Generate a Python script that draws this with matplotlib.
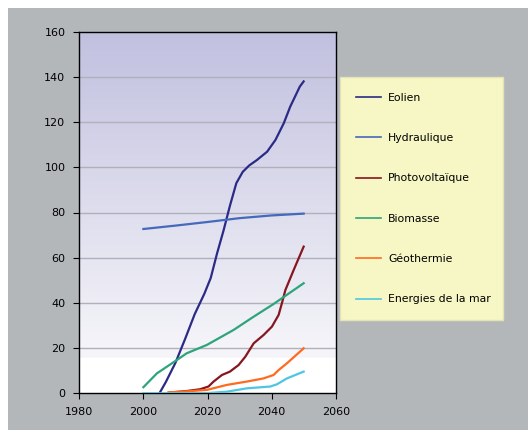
import numpy as np
import matplotlib
matplotlib.use("Agg")
import matplotlib.pyplot as plt
from matplotlib.patches import Rectangle

# values (GW-like units, years)
eolien_x = [2005, 2007, 2010, 2013, 2016, 2019, 2021, 2023, 2025, 2027, 2029, 2031,
            2033, 2035.4, 2038.6, 2041.2, 2043.8, 2045.8, 2048.8, 2050]
eolien_y = [0, 5, 13.5, 24, 35, 44, 51, 62, 72, 83, 93, 98, 100.8, 103.2, 106.9, 112.1,
            119.5, 126.8, 135.7, 138]
hydro_x = [2000, 2010, 2020, 2030, 2040, 2050]
hydro_y = [72.7, 74.2, 75.8, 77.5, 78.7, 79.5]
pv_x = [2008, 2013.5, 2017.7, 2020.3, 2021.9, 2024.5, 2027, 2029.7, 2031.8, 2034.4,
        2037.5, 2040.1, 2042.2, 2043.2, 2044.3, 2046.9, 2050]
pv_y = [0.3, 1, 1.8, 3, 5.2, 8.1, 9.6, 12.5, 16.2, 22.1, 25.8, 29.5, 34.7, 39.8, 45.7,
        54.6, 64.9]
bio_x = [2000, 2004.2, 2010.4, 2013.5, 2019.8, 2028.1, 2034.4, 2040.6, 2050]
bio_y = [2.7, 8.8, 14.7, 17.7, 21.4, 28, 33.9, 39.5, 48.7]
geo_x = [2007.8, 2013, 2019.8, 2026, 2032.3, 2037.5, 2040.6, 2042.2, 2044.8, 2050]
geo_y = [0.4, 0.8, 1.5, 3.7, 5.2, 6.6, 8.1, 10.3, 13.3, 19.9]
mer_x = [2000, 2010, 2020, 2026, 2032.3, 2039.6, 2041.7, 2044.8, 2050]
mer_y = [0, 0, 0.1, 0.7, 2.2, 3, 4, 6.6, 9.6]

series = [
    ("Eolien", eolien_x, eolien_y, "#2b2a86"),
    ("Hydraulique", hydro_x, hydro_y, "#4569bd"),
    ("Photovolta\u00efque", pv_x, pv_y, "#86161f"),
    ("Biomasse", bio_x, bio_y, "#2ca57a"),
    ("G\u00e9othermie", geo_x, geo_y, "#ff6a1e"),
    ("Energies de la mar", mer_x, mer_y, "#4ec6e0"),
]
xticks = [1980, 2000, 2020, 2040, 2060]
yticks = list(range(0, 161, 20))

W, H = 528, 430
fig = plt.figure(figsize=(W / 100, H / 100), dpi=100, facecolor="white")
bg = Rectangle((8 / W, 0), 1 - 8 / W, (H - 8) / H, transform=fig.transFigure,
               facecolor="#b4b7ba", edgecolor="none", zorder=-10)
fig.add_artist(bg)

ax = fig.add_axes([79.3 / W, 36.7 / H, 256.4 / W, 361.6 / H])
ax.set_zorder(1)

# gradient background, white band at the bottom
c_top = np.array([0.757, 0.753, 0.875])
c_bot = np.array([0.965, 0.965, 0.98])
t = np.linspace(0, 1, 256)[:, None, None]
img = c_bot + (c_top - c_bot) * t
ax.imshow(img, extent=[1980, 2060, 15.6, 160], origin="lower", aspect="auto", zorder=0)
ax.axhspan(0, 15.6, color="white", zorder=0)
ax.set_facecolor("white")
ax.set_xlim(1980, 2060)
ax.set_ylim(0, 160)

for y in yticks[1:-1]:
    ax.axhline(y, color="#b0b0ba", lw=1, zorder=1)

for name, xs, ys, col in series:
    ax.plot(xs, ys, color=col, lw=1.6, label=name, zorder=3)

ax.set_xticks(xticks)
ax.set_yticks(yticks)
ax.tick_params(direction="out", length=4, width=0.8, labelsize=8, pad=6)
for s in ax.spines.values():
    s.set_linewidth(1)
    s.set_color("black")

leg = fig.legend(loc="upper left", bbox_to_anchor=(340 / W, (H - 77) / H, 163 / W, 0),
                 mode="expand", fontsize=7.8, labelspacing=2.8, borderpad=1.45,
                 handlelength=2.3, handletextpad=0.7, borderaxespad=0,
                 frameon=True, fancybox=False)
leg.set_zorder(5)
fr = leg.get_frame()
fr.set_facecolor("#f7f7c6")
fr.set_edgecolor("#e3e3b5")
fr.set_linewidth(1)
fr.set_alpha(1)
for line in leg.get_lines():
    line.set_linewidth(1.2)

fig.savefig("out.png", dpi=100, facecolor=fig.get_facecolor())
